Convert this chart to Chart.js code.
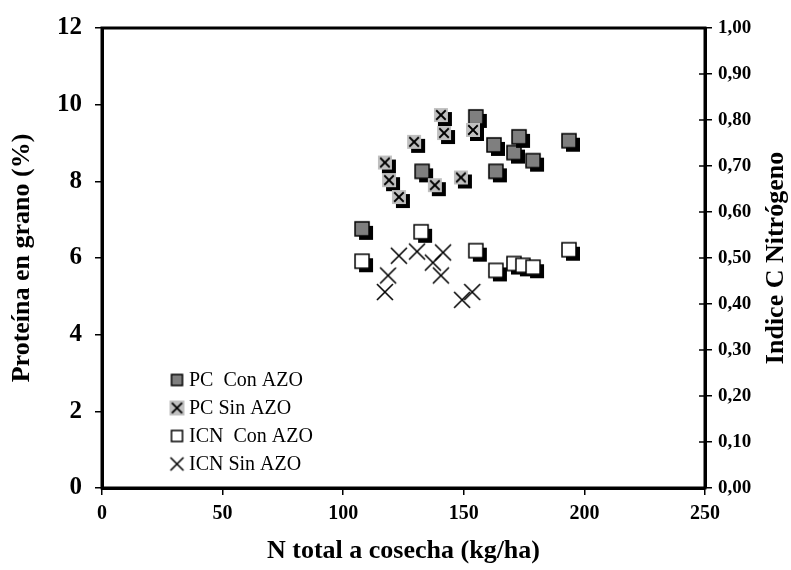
<!DOCTYPE html>
<html>
<head>
<meta charset="utf-8">
<script src="https://cdn.jsdelivr.net/npm/chart.js@4/dist/chart.umd.min.js"></script>
<style>
  html, body { margin: 0; padding: 0; background: #fff; }
  #wrap { width: 791px; height: 570px; position: relative; }
</style>
</head>
<body>
<div id="wrap"><canvas id="c" width="791" height="570" style="width:791px;height:570px"></canvas></div>
<script>
// ---- Data ----
const xTicks = [0, 50, 100, 150, 200, 250];
const yLeftTicks = [0, 2, 4, 6, 8, 10, 12];
const yRightTicks = [0, 0.1, 0.2, 0.3, 0.4, 0.5, 0.6, 0.7, 0.8, 0.9, 1.0];

const seriesNames = ["PC  Con AZO", "PC Sin AZO", "ICN  Con AZO", "ICN Sin AZO"];
const xTitle = "N total a cosecha (kg/ha)";
const yLeftTitle = "Proteína en grano (%)";
const yRightTitle = "Indice C Nitrógeno";

const pcConN    = [107.8, 132.7, 155.0, 162.5, 163.3, 170.8, 172.9, 178.7, 193.6];
const pcConProt = [6.76, 8.26, 9.68, 8.95, 8.26, 8.75, 9.16, 8.54, 9.06];

const pcSinN    = [117.3, 119.0, 123.1, 129.4, 138.0, 140.5, 141.8, 148.8, 153.8];
const pcSinProt = [8.49, 8.03, 7.59, 9.03, 7.90, 9.73, 9.26, 8.10, 9.34];

const icnConN   = [107.8, 132.3, 155.0, 163.3, 170.8, 174.5, 178.7, 193.6];
const icnConVal = [0.493, 0.557, 0.516, 0.473, 0.488, 0.484, 0.480, 0.518];

const icnSinN   = [117.3, 118.6, 123.1, 130.6, 137.2, 140.5, 141.4, 149.3, 153.5];
const icnSinVal = [0.426, 0.462, 0.505, 0.514, 0.490, 0.462, 0.512, 0.409, 0.426];

// ---- Marker images ----
const SERIF = '"Liberation Serif", "Times New Roman", serif';
function makeMarker(kind, size, shadow) {
  const d = shadow ? 4 : 0;
  const W = Math.ceil(size + 2 * d + 4);
  const cv = document.createElement('canvas');
  cv.width = W; cv.height = W;
  const g = cv.getContext('2d');
  const c = W / 2, h = size / 2;
  function cross(ox, oy, color, lw, arm) {
    g.strokeStyle = color; g.lineWidth = lw;
    g.beginPath();
    g.moveTo(c - arm + ox, c - arm + oy); g.lineTo(c + arm + ox, c + arm + oy);
    g.moveTo(c + arm + ox, c - arm + oy); g.lineTo(c - arm + ox, c + arm + oy);
    g.stroke();
  }
  if (kind === 'x') {
    if (shadow) cross(3, 3, '#ffffff', 2.5, h);
    cross(0, 0, '#000000', 1.6, h);
    return cv;
  }
  if (shadow) { g.fillStyle = '#000'; g.fillRect(c - h + d, c - h + d, size, size); }
  if (kind === 'dark') {
    g.fillStyle = '#7f7f7f'; g.fillRect(c - h, c - h, size, size);
    g.strokeStyle = '#000'; g.lineWidth = 1.5; g.strokeRect(c - h, c - h, size, size);
  } else if (kind === 'white') {
    g.fillStyle = '#fff'; g.fillRect(c - h, c - h, size, size);
    g.strokeStyle = '#000'; g.lineWidth = 1.5; g.strokeRect(c - h, c - h, size, size);
  } else if (kind === 'lightx') {
    g.fillStyle = '#c0c0c0'; g.fillRect(c - h, c - h, size, size);
    cross(0, 0, '#000', 1.8, h * 0.68);
  }
  return cv;
}
const mkPcCon = makeMarker('dark', 14, true);
const mkPcSin = makeMarker('lightx', 14, true);
const mkIcnCon = makeMarker('white', 14, true);
const mkIcnSin = makeMarker('x', 16, true);
const legendMarkers = [
  makeMarker('dark', 11, false),
  makeMarker('lightx', 15, false),
  makeMarker('white', 11, false),
  makeMarker('x', 13, false)
];

function pts(xs, ys) { return xs.map((x, i) => ({ x: x, y: ys[i] })); }

const L = { left: 102, right: 705, top: 23, bottom: 488 };

const boxPlugin = {
  id: 'box',
  afterDraw(chart) {
    const ctx = chart.ctx, a = chart.chartArea;
    ctx.save();
    ctx.strokeStyle = '#000'; ctx.lineWidth = 3;
    ctx.strokeRect(a.left, a.top, a.right - a.left, a.bottom - a.top);
    const yr = chart.scales.y2;
    ctx.lineWidth = 1.5;
    yr.ticks.forEach(t => {
      const py = yr.getPixelForValue(t.value);
      ctx.beginPath(); ctx.moveTo(a.right - 6, py); ctx.lineTo(a.right, py); ctx.stroke();
    });
    // right axis title (reads bottom-to-top as in the reference)
    ctx.save();
    ctx.translate(776, (a.top + a.bottom) / 2);
    ctx.rotate(-Math.PI / 2);
    ctx.font = 'bold 26px ' + SERIF;
    ctx.textAlign = 'center';
    ctx.textBaseline = 'middle';
    ctx.fillStyle = '#000';
    ctx.fillText(yRightTitle, 0, 0);
    ctx.restore();
    // legend
    ctx.font = '20px ' + SERIF;
    ctx.fillStyle = '#000';
    ctx.textBaseline = 'middle';
    ctx.textAlign = 'left';
    const rows = [380, 408, 436, 464];
    seriesNames.forEach((name, i) => {
      const m = legendMarkers[i];
      ctx.drawImage(m, 177 - m.width / 2, rows[i] - m.height / 2);
      ctx.fillText(name, 189, rows[i] + 1);
    });
    ctx.restore();
  }
};

new Chart(document.getElementById('c'), {
  type: 'scatter',
  data: {
    datasets: [
      { label: seriesNames[3], data: pts(icnSinN, icnSinVal), yAxisID: 'y2', pointStyle: mkIcnSin, order: 0 },
      { label: seriesNames[2], data: pts(icnConN, icnConVal), yAxisID: 'y2', pointStyle: mkIcnCon, order: 1 },
      { label: seriesNames[1], data: pts(pcSinN, pcSinProt), yAxisID: 'y', pointStyle: mkPcSin, order: 2 },
      { label: seriesNames[0], data: pts(pcConN, pcConProt), yAxisID: 'y', pointStyle: mkPcCon, order: 3 }
    ]
  },
  options: {
    responsive: false,
    maintainAspectRatio: false,
    animation: false,
    events: [],
    devicePixelRatio: 1,
    layout: { padding: { top: L.top, left: 0, right: 0, bottom: 0 } },
    plugins: { legend: { display: false }, tooltip: { enabled: false } },
    scales: {
      x: {
        type: 'linear', min: 0, max: 250,
        afterBuildTicks(s) { s.ticks = xTicks.map(v => ({ value: v })); },
        afterFit(s) { s.height = 570 - L.bottom; },
        grid: { display: true, drawOnChartArea: false, drawTicks: true, tickLength: 7, color: '#000', lineWidth: 1.5 },
        border: { display: true, color: '#000', width: 3 },
        ticks: { color: '#000', padding: 7, font: { family: SERIF, size: 20, weight: 'bold' } },
        title: { display: true, text: xTitle, color: '#000', font: { family: SERIF, size: 26, weight: 'bold', lineHeight: 1 }, padding: { top: 0, bottom: 6 } }
      },
      y: {
        type: 'linear', position: 'left', min: 0, max: 12,
        afterBuildTicks(s) { s.ticks = yLeftTicks.map(v => ({ value: v })); },
        afterFit(s) { s.width = L.left; },
        grid: { display: true, drawOnChartArea: false, drawTicks: true, tickLength: 7, color: '#000', lineWidth: 1.5 },
        border: { display: true, color: '#000', width: 3 },
        ticks: { color: '#000', padding: 13, font: { family: SERIF, size: 25, weight: 'bold' } },
        title: { display: true, text: yLeftTitle, color: '#000', font: { family: SERIF, size: 26, weight: 'bold', lineHeight: 1 }, padding: { top: 9, bottom: 0 } }
      },
      y2: {
        type: 'linear', position: 'right', min: 0, max: 1,
        afterBuildTicks(s) { s.ticks = yRightTicks.map(v => ({ value: v })); },
        afterFit(s) { s.width = 791 - L.right; },
        grid: { display: true, drawOnChartArea: false, drawTicks: true, tickLength: 7, color: '#000', lineWidth: 1.5 },
        border: { display: true, color: '#000', width: 3 },
        ticks: { color: '#000', padding: 6, font: { family: SERIF, size: 19, weight: 'bold' },
          callback: v => v.toFixed(2).replace('.', ',') },
        title: { display: false }
      }
    }
  },
  plugins: [boxPlugin]
});
</script>
</body>
</html>
